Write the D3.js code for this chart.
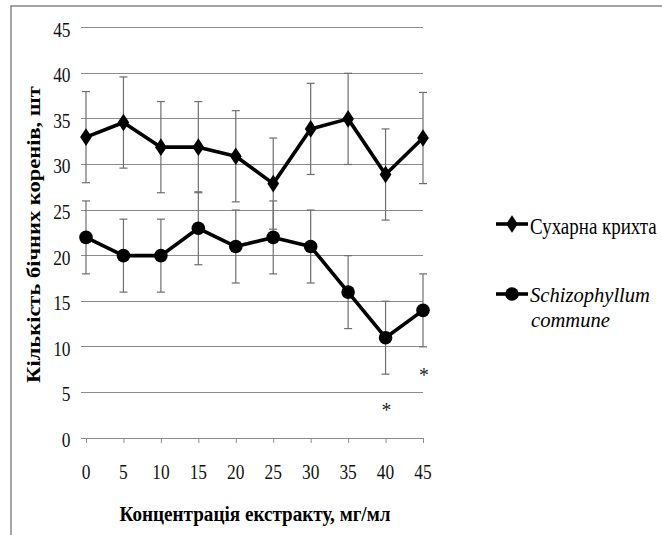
<!DOCTYPE html>
<html><head><meta charset="utf-8">
<script src="https://cdn.jsdelivr.net/npm/d3@7"></script>
<style>body{margin:0;background:#fff}svg{display:block}</style>
</head><body><svg id="c" width="662" height="535"></svg>
<script>
// ---- data ----
const categories = ["0","5","10","15","20","25","30","35","40","45"];
const seriesNames = ["Сухарна крихта", "Schizophyllum commune"];
const crumbs = [33, 34.6, 31.9, 31.9, 30.9, 27.9, 33.9, 35, 28.9, 32.9];
const crumbsErr = [5, 5, 5, 5, 5, 5, 5, 5, 5, 5];
const schizo = [22, 20, 20, 23, 21, 22, 21, 16, 11, 14];
const schizoErr = [4, 4, 4, 4, 4, 4, 4, 4, 4, 4];
const yTicks = [0, 5, 10, 15, 20, 25, 30, 35, 40, 45];
const starCats = ["40", "45"];
const starValues = [3.4, 7.2];
const xTitle = "Концентрація екстракту, мг/мл";
const yTitle = "Кількість бічних коренів, шт";

// ---- drawing ----
const svg = d3.select("#c");
const FONT = '"Liberation Serif", "Times New Roman", serif';

const x = d3.scalePoint().domain(categories).range([86, 423]);
const y = d3.scaleLinear().domain([0, 45]).range([438, 27.7]);

// text placed at (px,py); sx/sy scale in the text's own frame, optional rotation
function txt(parent, px, py, size, content, opts) {
  opts = opts || {};
  const sx = opts.sx || 1, sy = opts.sy || 1;
  const rot = opts.rotate ? ` rotate(${opts.rotate})` : "";
  const t = parent.append("text")
    .attr("transform", `translate(${px},${py})${rot} scale(${sx},${sy})`)
    .attr("text-anchor", opts.anchor || "start")
    .style("font-family", FONT).style("font-size", size + "px")
    .attr("fill", opts.fill || "#000").text(content);
  if (opts.bold) t.style("font-weight", "bold");
  if (opts.italic) t.style("font-style", "italic");
  return t;
}

// frame
svg.append("rect").attr("x", 11).attr("y", 6).attr("width", 670).attr("height", 560)
  .attr("fill", "none").attr("stroke", "#878787").attr("stroke-width", 1.5);

// gridlines
svg.append("g").selectAll("line").data(yTicks.filter(d => d > 0)).join("line")
  .attr("x1", 81).attr("x2", 423).attr("y1", d => y(d)).attr("y2", d => y(d))
  .attr("stroke", "#8c8c8c").attr("stroke-width", 1).attr("shape-rendering", "crispEdges");

// x axis
const xAxis = d3.axisBottom(x).tickSize(5).tickSizeOuter(0).tickFormat("");
const gx = svg.append("g").attr("transform", `translate(0,${y(0)})`).call(xAxis);
gx.select(".domain").attr("d", `M81,0.5H423`).attr("stroke", "#8c8c8c");
gx.selectAll(".tick line").attr("stroke", "#8c8c8c");

// x tick labels
const gxl = svg.append("g");
categories.forEach(c => txt(gxl, x(c), 479, 22, c, { anchor: "middle", fill: "#111", sx: 0.79 }));

// y tick labels
const gyl = svg.append("g");
yTicks.forEach(v => txt(gyl, 70.5, y(v) + 9, 22, v, { anchor: "end", fill: "#111", sx: 0.79 }));

// axis titles
txt(svg, 255, 521, 22, xTitle, { anchor: "middle", bold: true, sx: 0.87 });
txt(svg, 40, 234.5, 22.5, yTitle, { anchor: "middle", bold: true, rotate: -90, sy: 0.84 });

const series = [
  { name: seriesNames[0], vals: crumbs, err: crumbsErr, marker: "diamond" },
  { name: seriesNames[1], vals: schizo, err: schizoErr, marker: "circle" }
];

// error bars
series.forEach(s => {
  const g = svg.append("g").attr("stroke", "#6e6e6e").attr("stroke-width", 1.2);
  categories.forEach((c, i) => {
    const cx = x(c), hi = y(s.vals[i] + s.err[i]), lo = y(s.vals[i] - s.err[i]);
    g.append("line").attr("x1", cx).attr("x2", cx).attr("y1", hi).attr("y2", lo);
    g.append("line").attr("x1", cx - 4).attr("x2", cx + 4).attr("y1", hi).attr("y2", hi);
    g.append("line").attr("x1", cx - 4).attr("x2", cx + 4).attr("y1", lo).attr("y2", lo);
  });
});

const diamond = d3.symbol().type(d3.symbolDiamond).size(90);
function drawMarker(g, type, cx, cy) {
  if (type === "diamond") {
    g.append("path").attr("d", diamond()).attr("transform", `translate(${cx},${cy}) scale(1.15,1)`).attr("fill", "#000");
  } else {
    g.append("circle").attr("cx", cx).attr("cy", cy).attr("r", 6.8).attr("fill", "#000");
  }
}

// lines + markers
const line = d3.line().x((d, i) => x(categories[i])).y(d => y(d));
series.forEach(s => {
  svg.append("path").datum(s.vals).attr("d", line).attr("fill", "none")
    .attr("stroke", "#000").attr("stroke-width", 3.6).attr("stroke-linejoin", "round");
  const g = svg.append("g");
  s.vals.forEach((v, i) => drawMarker(g, s.marker, x(categories[i]), y(v)));
});

// significance stars
const gs = svg.append("g");
starCats.forEach((c, i) => txt(gs, x(c) + 1, y(starValues[i]) + 10, 22, "*", { anchor: "middle", fill: "#222", sx: 0.9 }));

// legend
const lg = svg.append("g");
const legY = [224, 294];
series.forEach((s, i) => {
  lg.append("line").attr("x1", 496).attr("x2", 528).attr("y1", legY[i]).attr("y2", legY[i])
    .attr("stroke", "#000").attr("stroke-width", 3.6);
  drawMarker(lg, s.marker, 512, legY[i]);
});
txt(lg, 530, legY[0] + 10, 24, seriesNames[0], { sx: 0.79 });
const parts = seriesNames[1].split(" ");
txt(lg, 530, legY[1] + 8, 21, parts[0], { italic: true, sx: 0.98 });
txt(lg, 531, legY[1] + 33, 21, parts[1], { italic: true, sx: 0.98 });
</script>
</body></html>
